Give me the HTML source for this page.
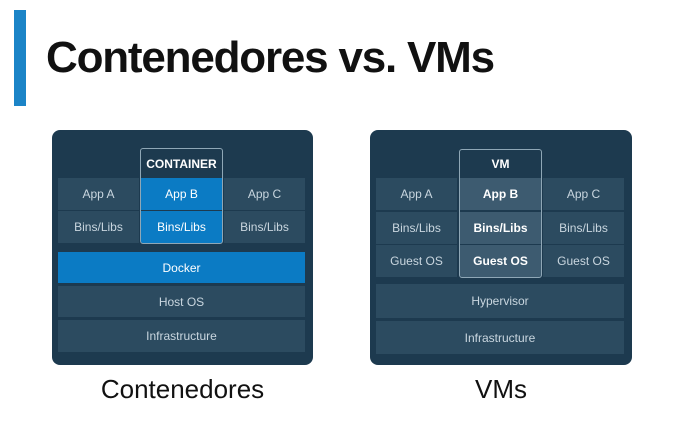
<!DOCTYPE html>
<html><head><style>
body{margin:0;width:685px;height:446px;background:#fff;position:relative;overflow:hidden;font-family:"Liberation Sans",sans-serif}
.a{position:absolute;box-sizing:border-box}
.p{background:#1d3a4f;border-radius:8px}
.c{background:#2c4b60;color:#c9d6df;font-size:12px;display:flex;align-items:center;justify-content:center}
.b{background:#0b7bc4;color:#fff}
.v{background:#3d5b70;color:#fff;font-weight:bold}
.box{border:1px solid #8fa7b6;border-radius:3px}
.h{color:#fff;font-size:12px;font-weight:bold;display:flex;justify-content:center;align-items:center}
</style></head><body>
<div class="a" style="left:14px;top:10px;width:12px;height:96px;background:#1b84c7"></div>
<div class="a" style="left:46px;top:33px;font-size:44px;font-weight:bold;color:#111;letter-spacing:-1.2px">Contenedores vs. VMs</div>

<div class="a p" style="left:52px;top:130px;width:261px;height:235px"></div>
<div class="a c" style="left:58px;top:178px;width:81px;height:32px">App A</div>
<div class="a c" style="left:58px;top:211px;width:81px;height:32px">Bins/Libs</div>
<div class="a c" style="left:224px;top:178px;width:81px;height:32px">App C</div>
<div class="a c" style="left:224px;top:211px;width:81px;height:32px">Bins/Libs</div>
<div class="a c b" style="left:141px;top:178px;width:81px;height:32px">App B</div>
<div class="a c b" style="left:141px;top:211px;width:81px;height:32px">Bins/Libs</div>
<div class="a box" style="left:140px;top:148px;width:83px;height:96px"></div>
<div class="a h" style="left:140px;top:150px;width:83px;height:27px">CONTAINER</div>
<div class="a c b" style="left:58px;top:252px;width:247px;height:31px">Docker</div>
<div class="a c" style="left:58px;top:286px;width:247px;height:31px">Host OS</div>
<div class="a c" style="left:58px;top:320px;width:247px;height:32px">Infrastructure</div>

<div class="a p" style="left:370px;top:130px;width:262px;height:235px"></div>
<div class="a c" style="left:376px;top:178px;width:81px;height:32px">App A</div>
<div class="a c" style="left:376px;top:212px;width:81px;height:32px">Bins/Libs</div>
<div class="a c" style="left:376px;top:245px;width:81px;height:32px">Guest OS</div>
<div class="a c" style="left:543px;top:178px;width:81px;height:32px">App C</div>
<div class="a c" style="left:543px;top:212px;width:81px;height:32px">Bins/Libs</div>
<div class="a c" style="left:543px;top:245px;width:81px;height:32px">Guest OS</div>
<div class="a c v" style="left:460px;top:178px;width:81px;height:32px">App B</div>
<div class="a c v" style="left:460px;top:212px;width:81px;height:32px">Bins/Libs</div>
<div class="a c v" style="left:460px;top:245px;width:81px;height:32px">Guest OS</div>
<div class="a box" style="left:459px;top:149px;width:83px;height:129px"></div>
<div class="a h" style="left:459px;top:151px;width:83px;height:26px">VM</div>
<div class="a c" style="left:376px;top:284px;width:248px;height:34px">Hypervisor</div>
<div class="a c" style="left:376px;top:321px;width:248px;height:33px">Infrastructure</div>

<div class="a" style="left:52px;top:374px;width:261px;text-align:center;font-size:26px;color:#111">Contenedores</div>
<div class="a" style="left:370px;top:374px;width:262px;text-align:center;font-size:26px;color:#111">VMs</div>
</body></html>
